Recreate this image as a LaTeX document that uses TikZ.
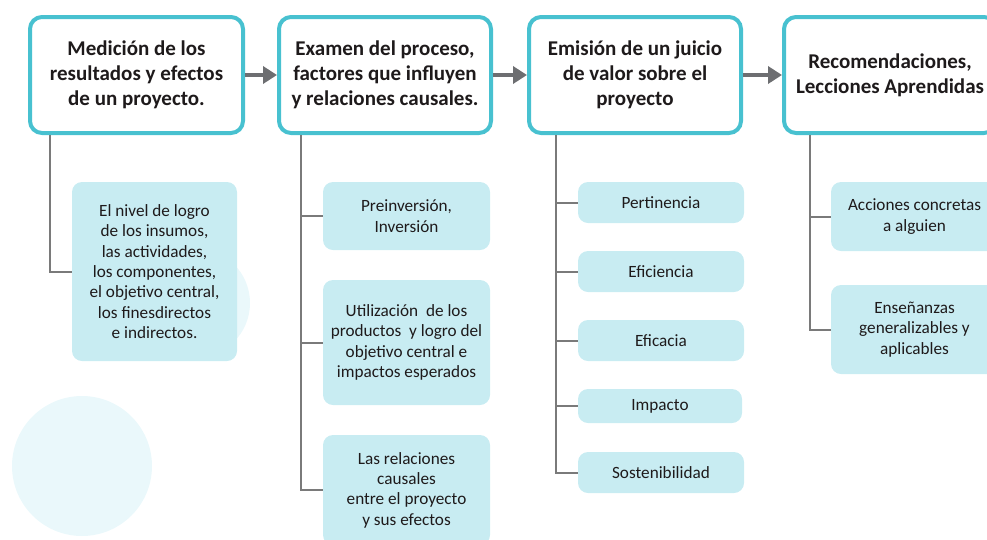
\documentclass[tikz,border=0pt]{standalone}
\usepackage{fontspec}
\setmainfont{Carlito}
\usetikzlibrary{arrows.meta}
\definecolor{teal}{HTML}{48C1D0}
\definecolor{lightfill}{HTML}{C8ECF2}
\definecolor{circfill}{HTML}{EAF8FB}
\definecolor{connc}{HTML}{7A7A7A}
\definecolor{arrowc}{HTML}{6D6E71}
\definecolor{txt}{HTML}{1E1A1B}
\tikzset{
  headbox/.style={draw=teal, line width=4pt, fill=white, rounded corners=12pt,
    inner sep=0pt, align=center, text=txt,
    font=\fontsize{21}{25}\selectfont\bfseries},
  subbox/.style={fill=lightfill, rounded corners=10pt, inner sep=0pt,
    align=center, text=txt, font=\fontsize{17.2}{20.3}\selectfont},
  conn/.style={draw=connc, line width=2pt},
  flow/.style={draw=arrowc, line width=4pt, -{Triangle[length=14pt,width=17pt]}},
  bgcirc/.style={fill=circfill, draw=none}
}
\begin{document}
\begin{tikzpicture}[x=1pt,y=-1pt]
\useasboundingbox (0,0) rectangle (987,539);
\clip (0,0) rectangle (987,539);
% background circles
\fill[bgcirc] (82,466) circle (70);
\fill[bgcirc] (195,303) circle (55);
% header boxes
\node[headbox, minimum width=213pt, minimum height=116pt] (b1) at (136.5,75)
  {\raisebox{-2pt}{\begin{tabular}{@{}c@{}}Medición de los\\resultados y efectos\\de un proyecto.\end{tabular}}};
\node[headbox, minimum width=212pt, minimum height=116pt] (b2) at (385,75)
  {\raisebox{-2pt}{\begin{tabular}{@{}c@{}}Examen del proceso,\\factores que influyen\\y relaciones causales.\end{tabular}}};
\node[headbox, minimum width=212pt, minimum height=116pt] (b3) at (635,75)
  {\raisebox{-2pt}{\begin{tabular}{@{}c@{}}Emisión de un juicio\\de valor sobre el\\proyecto\end{tabular}}};
\node[headbox, minimum width=212pt, minimum height=116pt] (b4) at (890,75)
  {Recomendaciones,\\Lecciones Aprendidas};
% flow arrows
\draw[flow] (b1.east) -- (b2.west);
\draw[flow] (b2.east) -- (b3.west);
\draw[flow] (b3.east) -- (b4.west);
% column 1
\node[subbox, minimum width=165pt, minimum height=179pt] (c11) at (154.5,271.5)
  {El nivel de logro\\de los insumos,\\las actividades,\\los componentes,\\el objetivo central,\\los finesdirectos\\e indirectos.};
% column 2
\node[subbox, minimum width=167pt, minimum height=68pt] (c21) at (406.5,216)
  {Preinversión,\\Inversión};
\node[subbox, minimum width=167pt, minimum height=125pt] (c22) at (406.5,342.5)
  {Utilización\ \ de los\\productos\ \ y logro del\\objetivo central e\\impactos esperados};
\node[subbox, minimum width=167pt, minimum height=110pt] (c23) at (406.5,490)
  {Las relaciones\\causales\\entre el proyecto\\y sus efectos};
% column 3
\node[subbox, minimum width=166pt, minimum height=41pt] (c31) at (661,202.5) {Pertinencia};
\node[subbox, minimum width=166pt, minimum height=41pt] (c32) at (661,271.5) {Eficiencia};
\node[subbox, minimum width=166pt, minimum height=41pt] (c33) at (661,340.5) {Eficacia};
\node[subbox, minimum width=164pt, minimum height=34pt] (c34) at (660,406) {Impacto};
\node[subbox, minimum width=166pt, minimum height=41pt] (c35) at (661,472.5) {Sostenibilidad};
% column 4
\node[subbox, minimum width=167pt, minimum height=69pt] (c41) at (914.5,216.5)
  {Acciones concretas\\a alguien};
\node[subbox, minimum width=167pt, minimum height=89pt] (c42) at (914.5,329.5)
  {Enseñanzas\\generalizables y\\aplicables};
% connectors
\draw[conn] ([xshift=22pt]b1.south west) |- (c11.west);
\draw[conn] ([xshift=24pt]b2.south west) |- (c21.west);
\draw[conn] ([xshift=24pt]b2.south west) |- (c22.west);
\draw[conn] ([xshift=24pt]b2.south west) |- (c23.west);
\draw[conn] ([xshift=29pt]b3.south west) |- (c31.west);
\draw[conn] ([xshift=29pt]b3.south west) |- (c32.west);
\draw[conn] ([xshift=29pt]b3.south west) |- (c33.west);
\draw[conn] ([xshift=29pt]b3.south west) |- (c34.west);
\draw[conn] ([xshift=29pt]b3.south west) |- (c35.west);
\draw[conn] ([xshift=28pt]b4.south west) |- (c41.west);
\draw[conn] ([xshift=28pt]b4.south west) |- (c42.west);
\end{tikzpicture}
\end{document}
